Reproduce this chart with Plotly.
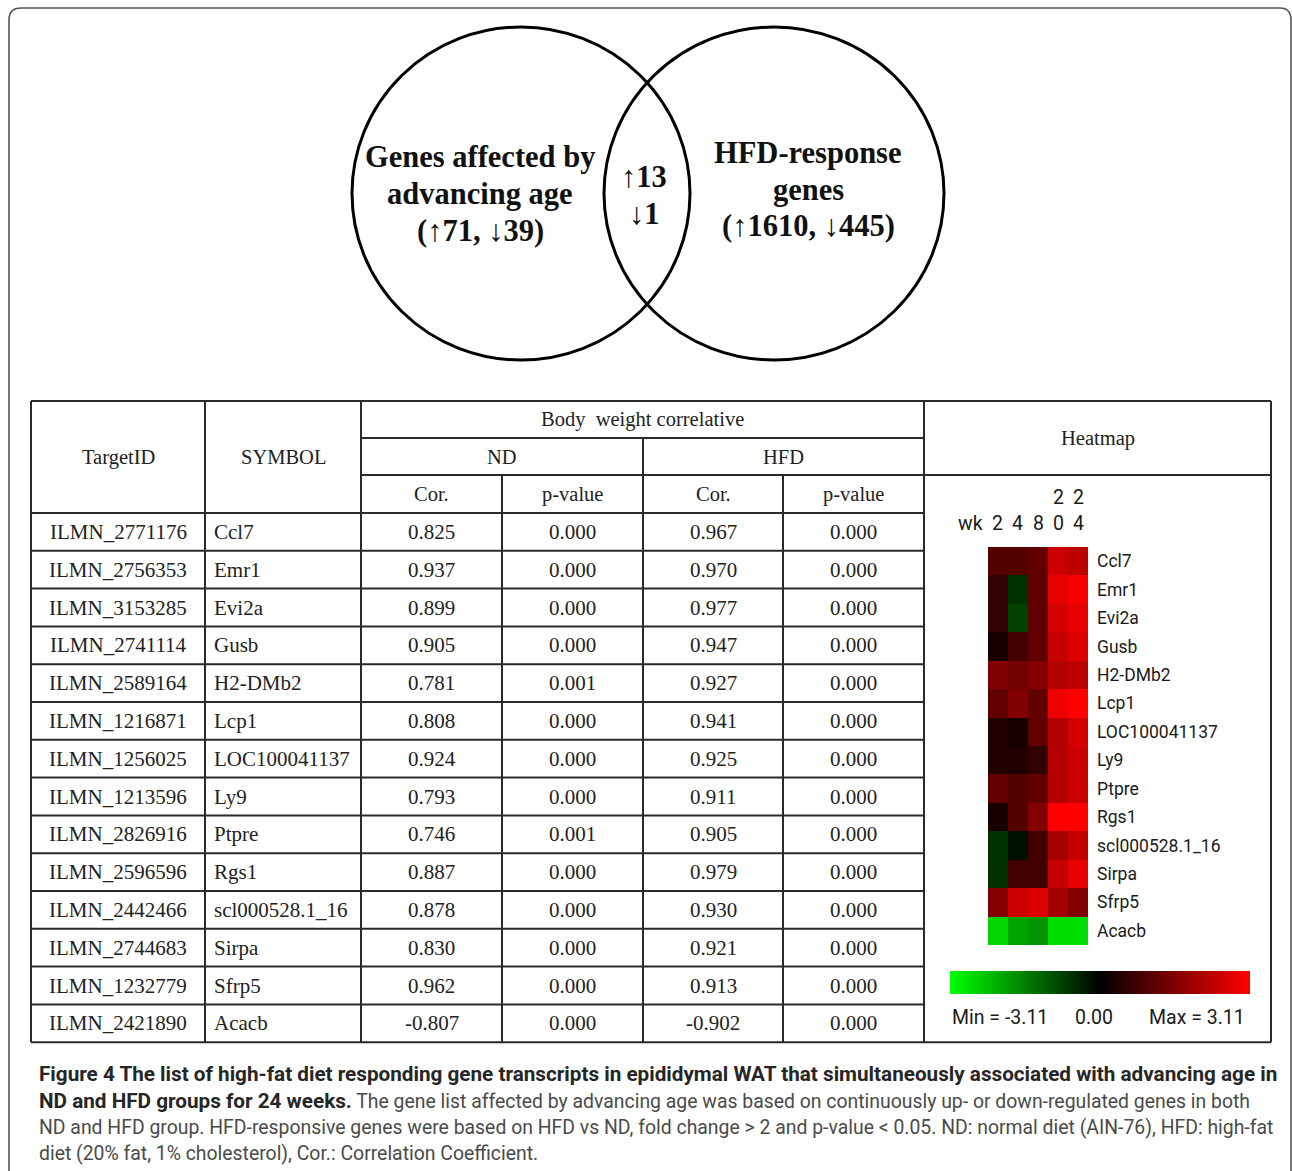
import plotly.graph_objects as go

W, H = 1292, 1171

# ---- Venn diagram counts ----
age_up, age_down = 71, 39
shared_up, shared_down = 13, 1
hfd_up, hfd_down = 1610, 445

# ---- Table data ----
target_ids = ["ILMN_2771176", "ILMN_2756353", "ILMN_3153285", "ILMN_2741114",
              "ILMN_2589164", "ILMN_1216871", "ILMN_1256025", "ILMN_1213596",
              "ILMN_2826916", "ILMN_2596596", "ILMN_2442466", "ILMN_2744683",
              "ILMN_1232779", "ILMN_2421890"]
symbols = ["Ccl7", "Emr1", "Evi2a", "Gusb", "H2-DMb2", "Lcp1", "LOC100041137",
           "Ly9", "Ptpre", "Rgs1", "scl000528.1_16", "Sirpa", "Sfrp5", "Acacb"]
heat_labels = ["Ccl7", "Emr1", "Evi2a", "Gusb", "H2-DMb2", "Lcp1", "LOC100041137",
               "Ly9", "Ptpre", "Rgs1", "scl000528.1_16", "Sirpa", "Sfrp5", "Acacb"]
nd_cor = [0.825, 0.937, 0.899, 0.905, 0.781, 0.808, 0.924, 0.793, 0.746, 0.887,
          0.878, 0.830, 0.962, -0.807]
nd_p = [0.000, 0.000, 0.000, 0.000, 0.001, 0.000, 0.000, 0.000, 0.001, 0.000,
        0.000, 0.000, 0.000, 0.000]
hfd_cor = [0.967, 0.970, 0.977, 0.947, 0.927, 0.941, 0.925, 0.911, 0.905, 0.979,
           0.930, 0.921, 0.913, -0.902]
hfd_p = [0.000, 0.000, 0.000, 0.000, 0.000, 0.000, 0.000, 0.000, 0.000, 0.000,
         0.000, 0.000, 0.000, 0.000]

# ---- Heatmap (log-ratio per week) ----
weeks = ["2", "4", "8", "20", "24"]
expr = [
    [1.0, 1.0, 1.2, 2.5, 2.3],     # Ccl7
    [0.6, -0.6, 1.2, 2.8, 3.0],    # Emr1
    [0.6, -0.8, 1.2, 2.6, 2.8],    # Evi2a
    [0.3, 0.8, 1.2, 2.4, 2.7],     # Gusb
    [1.6, 1.4, 1.6, 2.2, 2.3],     # H2-DMb2
    [1.2, 1.6, 1.2, 2.9, 3.1],     # Lcp1
    [0.4, 0.3, 1.2, 2.2, 2.6],     # LOC100041137
    [0.4, 0.4, 0.6, 2.2, 2.5],     # Ly9
    [1.2, 1.0, 1.2, 2.2, 2.5],     # Ptpre
    [0.3, 1.0, 1.6, 3.11, 3.11],   # Rgs1
    [-0.6, -0.2, 0.8, 2.0, 2.4],   # scl000528.1_16
    [-0.6, 0.8, 0.8, 2.4, 2.8],    # Sirpa
    [1.6, 2.5, 2.7, 2.0, 1.6],     # Sfrp5
    [-2.6, -2.0, -1.8, -2.7, -2.7],  # Acacb
]
zmin, zmax = -3.11, 3.11

SERIF = "Liberation Serif, Times New Roman, serif"
SANS = "Roboto, Liberation Sans, sans-serif"
LINE = "#2a2a2a"

fig = go.Figure()

# invisible pixel-space axes for the drawing layer
fig.add_trace(go.Scatter(x=[0, W], y=[0, H], mode="markers",
                         marker=dict(opacity=0), hoverinfo="skip", showlegend=False))

fig.add_trace(go.Heatmap(
    z=expr, x=weeks, y=heat_labels, zmin=zmin, zmax=zmax,
    colorscale=[[0, "#00ff00"], [0.5, "#000000"], [1, "#ff0000"]],
    xaxis="x2", yaxis="y2",
    colorbar=dict(orientation="h", x=950 / W, xanchor="left",
                  y=1 - 971 / H, yanchor="top", len=300, lenmode="pixels",
                  thickness=23, thicknessmode="pixels", outlinewidth=0,
                  showticklabels=False, ticks="", xpad=0, ypad=0),
))

shapes = []
annotations = []

# outer rounded frame
shapes.append(dict(type="path", xref="x", yref="y",
                   path=f"M 9,{H} L 9,20 Q 9,8 21,8 L 1280,8 Q 1291,8 1291,20 L 1291,{H}",
                   line=dict(color="#555555", width=1.6)))

# Venn circles
shapes.append(dict(type="circle", xref="x", yref="y", x0=352, x1=690, y0=27, y1=360,
                   line=dict(color="black", width=3)))
shapes.append(dict(type="circle", xref="x", yref="y", x0=604, x1=944, y0=27, y1=360,
                   line=dict(color="black", width=3)))

venn_font = dict(family=SERIF, size=30.5, color="#111111")
for txt, x, y in [
    ("<b>Genes affected by</b>", 480, 157),
    ("<b>advancing age</b>", 480, 194),
    (f"<b>(↑{age_up}, ↓{age_down})</b>", 480, 231),
    ("<b>HFD-response</b>", 808, 153),
    ("<b>genes</b>", 808, 190),
    (f"<b>(↑{hfd_up}, ↓{hfd_down})</b>", 808, 226),
    (f"<b>↑{shared_up}</b>", 644, 177),
    (f"<b>↓{shared_down}</b>", 644, 214),
]:
    annotations.append(dict(text=txt, x=x, y=y, xref="x", yref="y", showarrow=False,
                            xanchor="center", yanchor="middle", font=venn_font))

# ---- Table grid ----
xl, xr = 31, 1271
c_sym, c_nd, c_ndp, c_hfd, c_hfdp, c_heat = 205, 361, 502, 643, 783, 924
yt, y1, y2, yh = 401, 438, 475, 513
row_h = 37.8
n = len(target_ids)
yb = yh + row_h * n


def hline(x0, x1, y):
    shapes.append(dict(type="line", xref="x", yref="y", x0=x0, x1=x1, y0=y, y1=y,
                       line=dict(color=LINE, width=2)))


def vline(x, y0, y1_):
    shapes.append(dict(type="line", xref="x", yref="y", x0=x, x1=x, y0=y0, y1=y1_,
                       line=dict(color=LINE, width=2)))


hline(xl, xr, yt)
hline(c_nd, c_heat, y1)
hline(c_nd, xr, y2)
for i in range(n):
    hline(xl, c_heat, yh + row_h * i)
hline(xl, xr, yb)
for x in (xl, c_sym, c_nd, c_heat, xr):
    vline(x, yt, yb)
vline(c_hfd, y1, yb)
vline(c_ndp, y2, yb)
vline(c_hfdp, y2, yb)

hdr_font = dict(family=SERIF, size=20.5, color="#222222")
cell_font = dict(family=SERIF, size=21, color="#222222")


def text(t, x, y, font, anchor="center", xref="x"):
    annotations.append(dict(text=t, x=x, y=y, xref=xref, yref="y", showarrow=False,
                            xanchor=anchor, yanchor="middle", font=font))


text("TargetID", (xl + c_sym) / 2, (yt + yh) / 2, hdr_font)
text("SYMBOL", (c_sym + c_nd) / 2, (yt + yh) / 2, hdr_font)
text("Body  weight correlative", (c_nd + c_heat) / 2, (yt + y1) / 2, hdr_font)
text("ND", (c_nd + c_hfd) / 2, (y1 + y2) / 2, hdr_font)
text("HFD", (c_hfd + c_heat) / 2, (y1 + y2) / 2, hdr_font)
text("Cor.", (c_nd + c_ndp) / 2, (y2 + yh) / 2, hdr_font)
text("p-value", (c_ndp + c_hfd) / 2, (y2 + yh) / 2, hdr_font)
text("Cor.", (c_hfd + c_hfdp) / 2, (y2 + yh) / 2, hdr_font)
text("p-value", (c_hfdp + c_heat) / 2, (y2 + yh) / 2, hdr_font)
text("Heatmap", (c_heat + xr) / 2, (yt + y2) / 2, hdr_font)

for i in range(n):
    yc = yh + row_h * (i + 0.5)
    text(target_ids[i], (xl + c_sym) / 2, yc, cell_font)
    text(symbols[i], c_sym + 7, yc, cell_font, anchor="left")
    text(f"{nd_cor[i]:.3f}", (c_nd + c_ndp) / 2, yc, cell_font)
    text(f"{nd_p[i]:.3f}", (c_ndp + c_hfd) / 2, yc, cell_font)
    text(f"{hfd_cor[i]:.3f}", (c_hfd + c_hfdp) / 2, yc, cell_font)
    text(f"{hfd_p[i]:.3f}", (c_hfdp + c_heat) / 2, yc, cell_font)

# ---- Heatmap column header (week labels, two-digit weeks stacked) ----
hm_font = dict(family=SANS, size=19.5, color="#1a1a1a")
text("wk", 985, 523, hm_font, anchor="right")
for j, wk in enumerate(weeks):
    annotations.append(dict(text=wk[-1], x=j, y=523, xref="x2", yref="y", showarrow=False,
                            xanchor="center", yanchor="middle", font=hm_font))
    if len(wk) > 1:
        annotations.append(dict(text=wk[:-1], x=j, y=497, xref="x2", yref="y",
                                showarrow=False, xanchor="center", yanchor="middle",
                                font=hm_font))

# colour scale labels
text(f"Min = {zmin:.2f}", 950, 1017, hm_font, anchor="left")
text(f"{0:.2f}", 1094, 1017, hm_font)
text(f"Max = {zmax:.2f}", 1247, 1017, hm_font, anchor="right")

# ---- Caption ----
cap_b = "#262626"
cap_r = "#4a4a4a"
cap_font = dict(family=SANS, size=19.4, color=cap_r)
bsz = "font-size:20.7px"
caption_lines = [
    f"<b><span style='color:{cap_b};{bsz}'>Figure 4 The list of high-fat diet responding gene transcripts in epididymal WAT that simultaneously associated with advancing age in</span></b>",
    f"<b><span style='color:{cap_b};{bsz}'>ND and HFD groups for 24 weeks.</span></b> The gene list affected by advancing age was based on continuously up- or down-regulated genes in both",
    "ND and HFD group. HFD-responsive genes were based on HFD vs ND, fold change &gt; 2 and p-value &lt; 0.05. ND: normal diet (AIN-76), HFD: high-fat",
    "diet (20% fat, 1% cholesterol), Cor.: Correlation Coefficient.",
]
for k, line in enumerate(caption_lines):
    text(line, 37, 1074 + 26.5 * k, cap_font, anchor="left")

fig.update_layout(
    width=W, height=H, margin=dict(l=0, r=0, t=0, b=0),
    paper_bgcolor="white", plot_bgcolor="white", showlegend=False,
    xaxis=dict(range=[0, W], visible=False, domain=[0, 1], fixedrange=True),
    yaxis=dict(range=[H, 0], visible=False, domain=[0, 1], fixedrange=True),
    xaxis2=dict(domain=[988 / W, 1088 / W], anchor="y2", type="category",
                range=[-0.5, len(weeks) - 0.5],
                showticklabels=False, showgrid=False, zeroline=False, ticks=""),
    yaxis2=dict(domain=[1 - 945 / H, 1 - 547 / H], anchor="x2", side="right",
                type="category", range=[len(heat_labels) - 0.5, -0.5],
                showgrid=False, zeroline=False, ticks="",
                tickfont=dict(family=SANS, size=17.5, color="#1a1a1a"),
                ticklabelstandoff=8),
    shapes=shapes, annotations=annotations,
)

fig.write_html("out.html")
